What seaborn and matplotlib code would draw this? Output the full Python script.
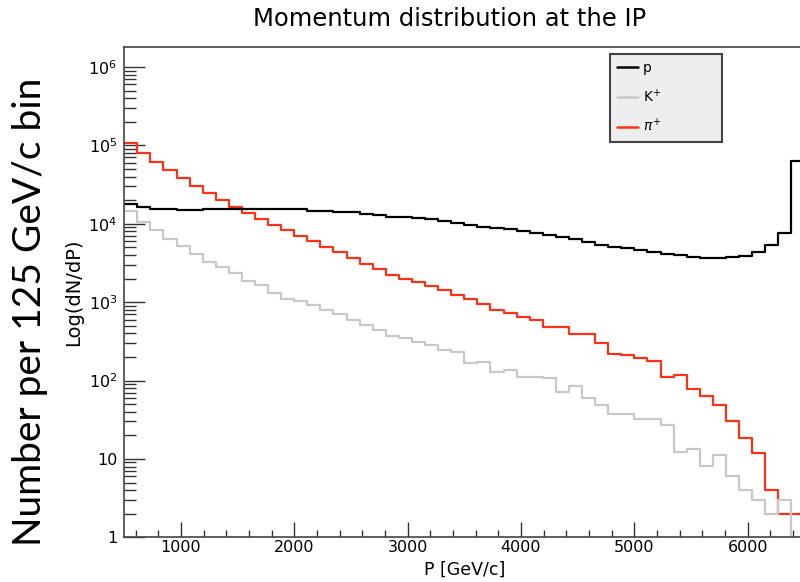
import numpy as np
import pandas as pd
import seaborn as sns
import matplotlib.pyplot as plt
from matplotlib.lines import Line2D
from matplotlib.ticker import MultipleLocator, FixedLocator, FuncFormatter, NullFormatter

# 52 momentum bins between 500 and 6500 GeV/c
p_min, p_max, n_bins = 500, 6500, 52

# entries per bin
proton = [17600, 16500, 15500, 15500, 14900, 14900, 15500, 15500, 15500, 15500,
          15500, 15500, 15200, 15300, 14700, 14700, 14200, 14200, 13300, 12900,
          12300, 12300, 11700, 11400, 10900, 10300, 9600, 9200, 8700, 8500,
          8100, 7550, 7100, 6800, 6300, 5850, 5350, 5100, 4850, 4650,
          4400, 4100, 3950, 3800, 3700, 3650, 3750, 3900, 4400, 5300,
          7550, 63700]
kaon = [14600, 10600, 8400, 6450, 5150, 4100, 3250, 2830, 2330, 1880,
        1650, 1320, 1100, 1040, 920, 790, 705, 590, 510, 440,
        370, 345, 313, 284, 245, 233, 166, 172, 127, 137,
        110, 112, 107, 71, 84, 59, 48, 37, 37, 32,
        32, 27, 12.4, 13.4, 8.2, 11.2, 6.0, 4.0, 3.0, 2.0,
        3.0, 0]
pion = [108000, 79000, 60700, 48000, 38300, 30400, 25000, 20000, 16100, 13800,
        11400, 9600, 8300, 6900, 6070, 5000, 4360, 3620, 3060, 2620,
        2240, 1950, 1820, 1600, 1430, 1230, 1100, 940, 800, 719,
        640, 591, 482, 482, 392, 390, 298, 220, 212, 196,
        178, 112, 116, 77, 64, 48, 30, 18.5, 12, 4,
        2, 2]

particles = ['p', 'K+', 'pi+']
labels = ['p', r'K$^{+}$', r'$\pi^{+}$']
colors = ['#000000', '#c8c8c8', '#fa3218']

# y axis decades shown
decades = [0, 1, 2, 3, 4, 5, 6]

edges = np.linspace(p_min, p_max, n_bins + 1)
centers = 0.5 * (edges[:-1] + edges[1:])

df = pd.concat([pd.DataFrame({'P': centers, 'N': vals, 'particle': name})
                for name, vals in zip(particles, [proton, kaon, pion])],
               ignore_index=True)

sns.set_style('ticks')
plt.rcParams['font.family'] = ['DejaVu Sans']
plt.rcParams['mathtext.fontset'] = 'dejavusans'
plt.rcParams['text.color'] = 'black'
plt.rcParams['axes.labelcolor'] = 'black'

fig = plt.figure(figsize=(8, 5.82), dpi=100)
ax = fig.add_axes([0.15525, 0.0768, 0.85025, 0.8419])

sns.histplot(data=df, x='P', weights='N', hue='particle', hue_order=particles,
             palette=colors, bins=n_bins, binrange=(p_min, p_max),
             element='step', fill=False, linewidth=1.6, legend=False, ax=ax)

ax.set_yscale('log')
ax.set_xlim(p_min, p_max)
ax.set_ylim(1, 10 ** 6.25)

# ROOT-like axes: ticks inside
ax.xaxis.set_major_locator(FixedLocator([1000, 2000, 3000, 4000, 5000, 6000]))
ax.xaxis.set_minor_locator(MultipleLocator(200))
ax.yaxis.set_major_locator(FixedLocator([10.0 ** d for d in decades]))
minor_y = [m * 10.0 ** d for d in decades for m in range(2, 10) if m * 10.0 ** d < 10 ** 6.25]
ax.yaxis.set_minor_locator(FixedLocator(minor_y))
ax.yaxis.set_minor_formatter(NullFormatter())

def log_label(v, pos):
    e = int(round(np.log10(v)))
    if e == 0:
        return '1'
    if e == 1:
        return '10'
    return r'$\mathregular{10^{%d}}$' % e

ax.yaxis.set_major_formatter(FuncFormatter(log_label))
ax.tick_params(axis='both', which='both', direction='in', color='#333333', width=1,
               labelsize=11.5, labelcolor='black')
ax.tick_params(axis='x', which='major', length=10.5, pad=2)
ax.tick_params(axis='x', which='minor', length=5.3)
ax.tick_params(axis='y', which='major', length=15, pad=5)
ax.tick_params(axis='y', which='minor', length=8.6)
for s in ax.spines.values():
    s.set_color('#444444')
    s.set_linewidth(1.2)

ax.set_xlabel('P [GeV/c]', fontsize=12.5, labelpad=4)
ax.set_ylabel('Log(dN/dP)', fontsize=14, labelpad=4)
fig.text(450 / 800, 1 - 19 / 582, 'Momentum distribution at the IP',
         ha='center', va='center', fontsize=17.5)

fig.text(0.038, 0.465, 'Number per 125 GeV/c bin', rotation=90,
         ha='center', va='center', fontsize=28, family='Lato')

handles = [Line2D([], [], color=c, lw=1.8) for c in colors]
leg = ax.legend(handles, labels, loc='upper left',
                bbox_to_anchor=(0.714, 0.0, 0.165, 0.986), mode='expand',
                fontsize=10, handlelength=1.5, handletextpad=0.4,
                labelspacing=0.9, borderpad=0.5, borderaxespad=0,
                frameon=True, fancybox=False)
frame = leg.get_frame()
frame.set_facecolor('#eeeeee')
frame.set_edgecolor('#444444')
frame.set_linewidth(1.5)
frame.set_alpha(1)

fig.savefig('out.png', dpi=100)
